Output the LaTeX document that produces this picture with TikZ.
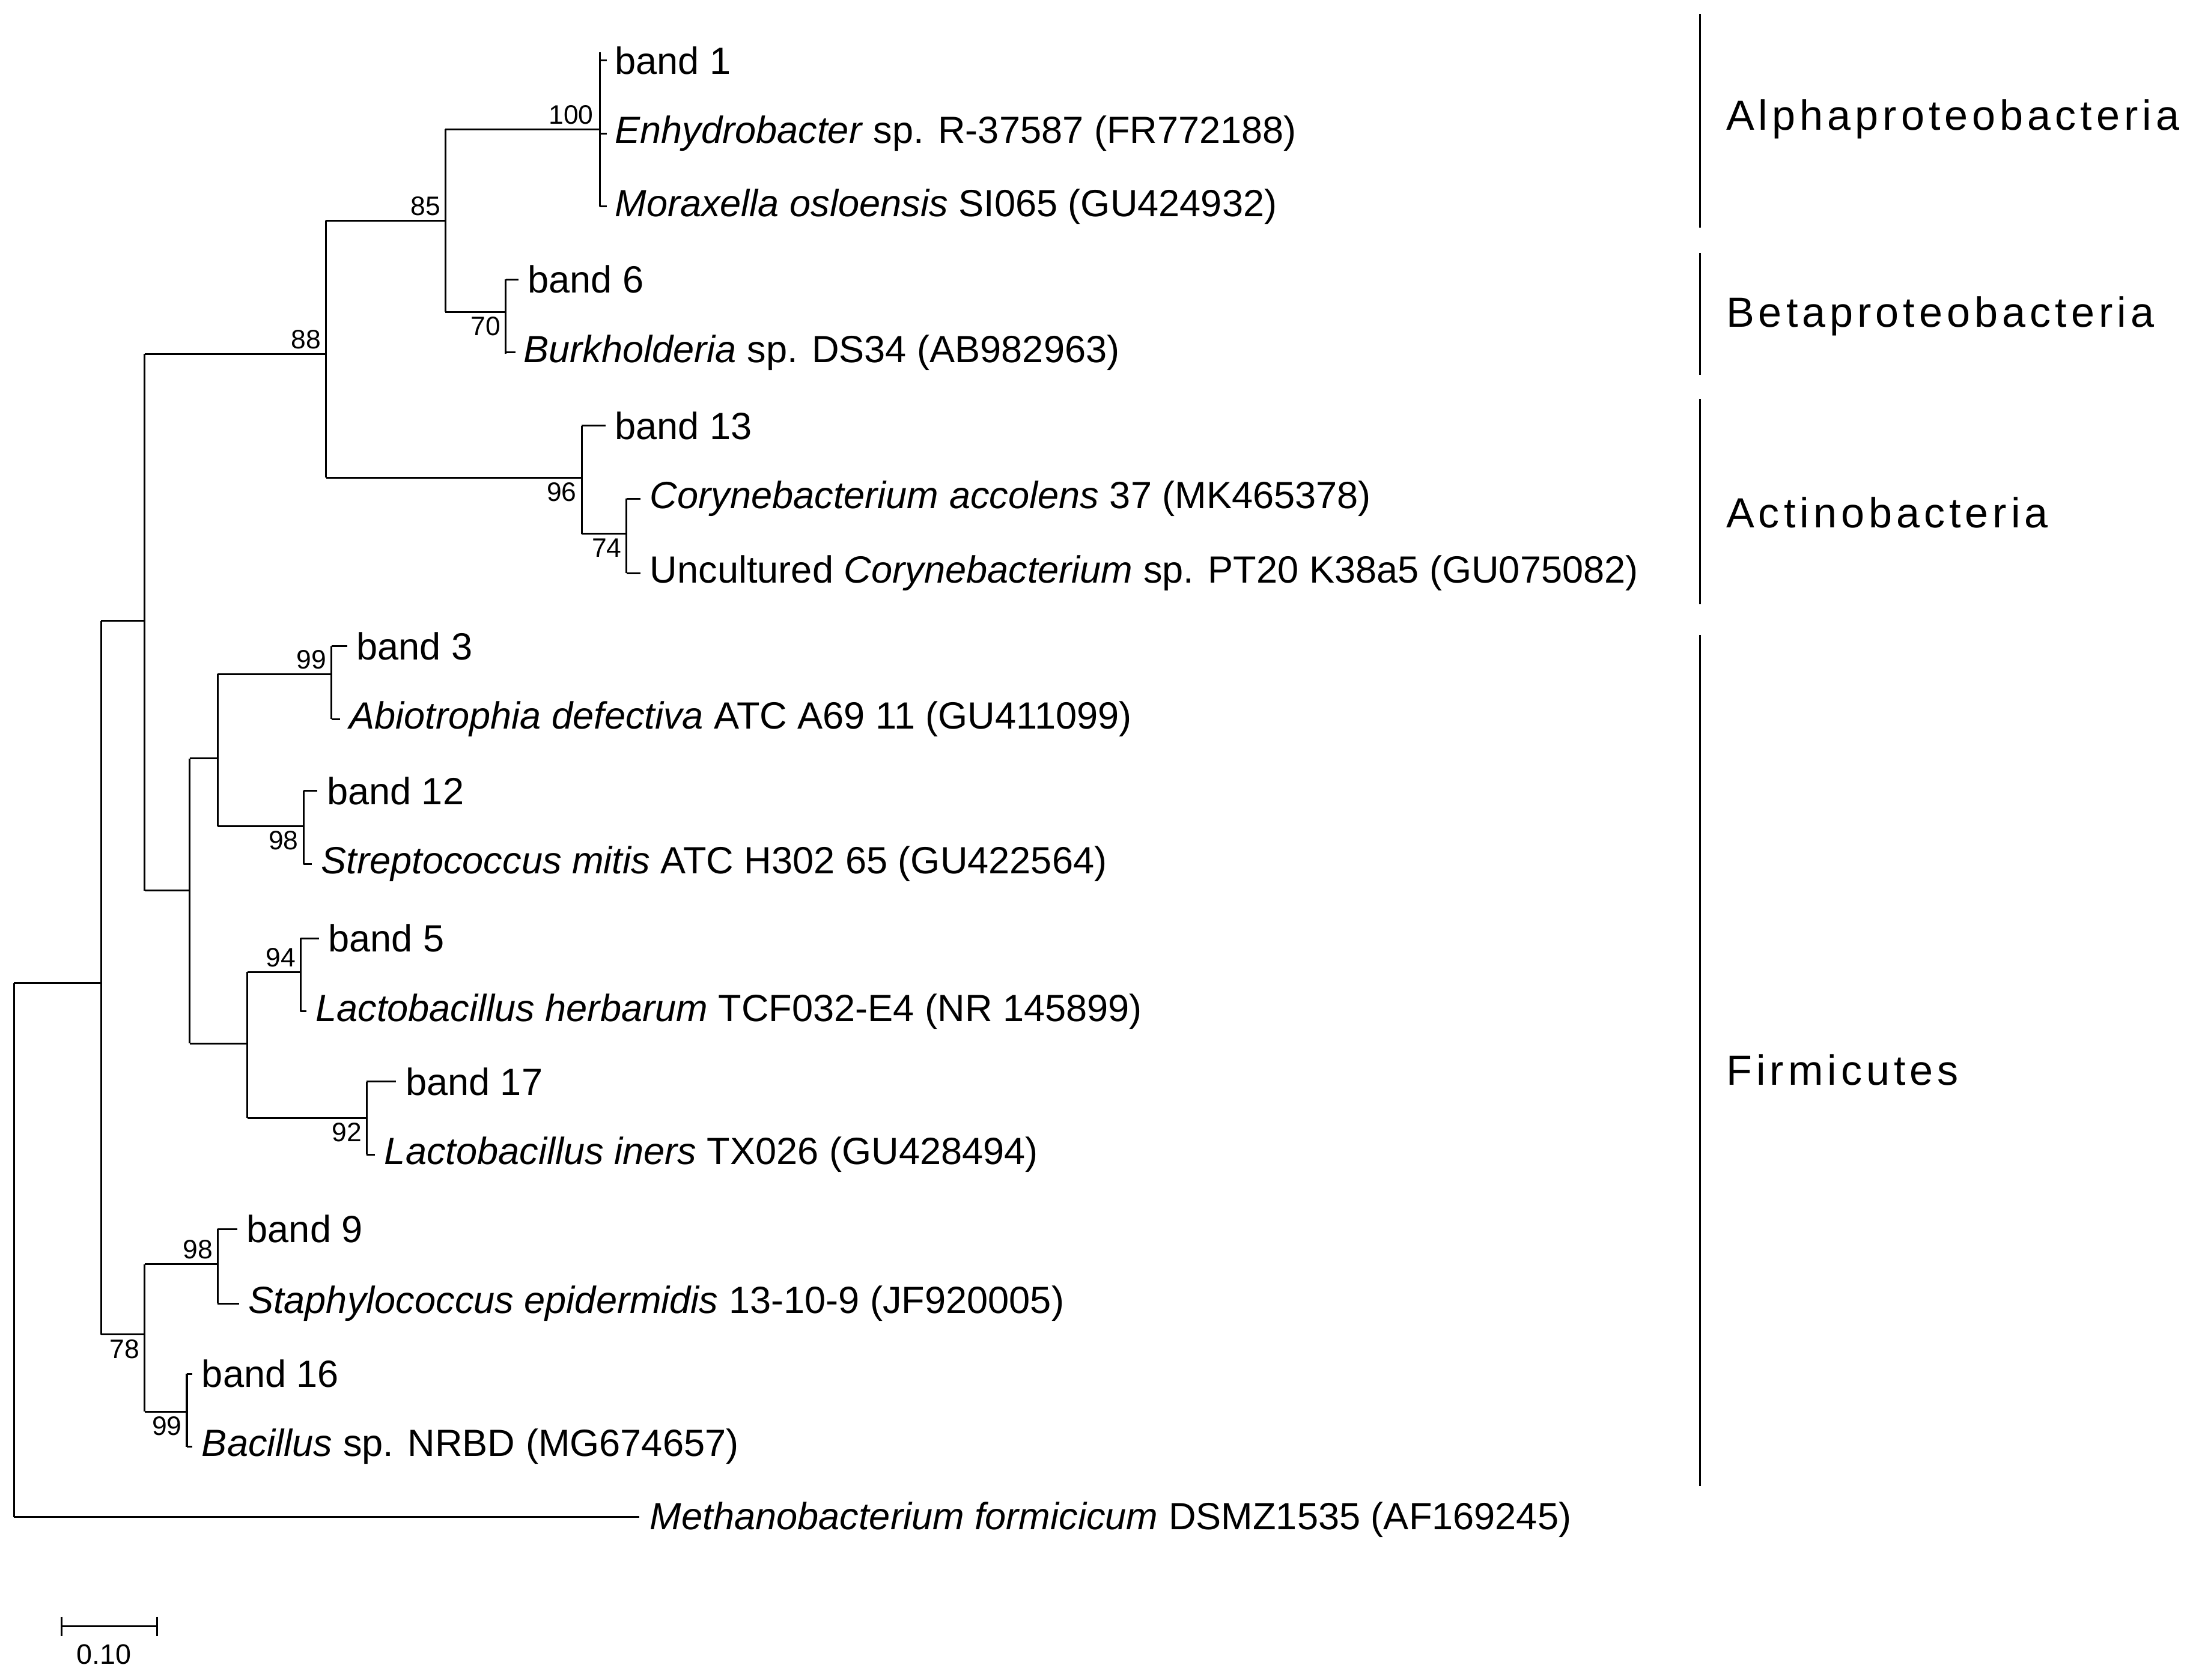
\documentclass[tikz,border=0pt]{standalone}
\usepackage{fontspec}
\setmainfont{Liberation Sans}
\newfontfamily\clfont[LetterSpace=10]{Liberation Sans}
\begin{document}
\begin{tikzpicture}[x=1pt,y=-1pt,line width=1.3pt,
  lf/.style={anchor=west,font=\fontsize{27}{29}\selectfont,inner sep=0pt},
  bs/.style={font=\fontsize{19}{21}\selectfont,inner sep=1pt},
  cl/.style={anchor=west,font=\clfont\fontsize{30}{32}\selectfont,inner sep=0pt}]
\useasboundingbox (0,0) rectangle (1563,1196);
\draw (10,700) -- (10,1080);
\newcommand\lf[4]{\node[lf] (#1) at (#2,#3) {#4};}
% leaves
\lf{l1}{437}{43}{band 1}
\lf{l2}{437}{95}{\textit{Enhydrobacter} sp. R-37587 (FR772188)}
\lf{l3}{437}{147}{\textit{Moraxella osloensis} SI065 (GU424932)}
\lf{l4}{375}{199}{band 6}
\lf{l5}{372}{251}{\textit{Burkholderia} sp. DS34 (AB982963)}
\lf{l6}{437}{303}{band 13}
\lf{l7}{462}{355}{\textit{Corynebacterium accolens} 37 (MK465378)}
\lf{l8}{462}{408}{Uncultured \textit{Corynebacterium} sp. PT20 K38a5 (GU075082)}
\lf{l9}{253}{460}{band 3}
\lf{l10}{248}{512}{\textit{Abiotrophia defectiva} ATC A69 11 (GU411099)}
\lf{l11}{232}{563}{band 12}
\lf{l12}{228}{615}{\textit{Streptococcus mitis} ATC H302 65 (GU422564)}
\lf{l13}{233}{668}{band 5}
\lf{l14}{224}{720}{\textit{Lactobacillus herbarum} TCF032-E4 (NR 145899)}
\lf{l15}{288}{770}{band 17}
\lf{l16}{273}{822}{\textit{Lactobacillus iners} TX026 (GU428494)}
\lf{l17}{175}{875}{band 9}
\lf{l18}{176}{928}{\textit{Staphylococcus epidermidis} 13-10-9 (JF920005)}
\lf{l19}{143}{978}{band 16}
\lf{l20}{143}{1030}{\textit{Bacillus} sp. NRBD (MG674657)}
\lf{l21}{462}{1082}{\textit{Methanobacterium formicicum} DSMZ1535 (AF169245)}
% tree
\draw (10,1080) -- (455,1080);
\draw (10,700) -- (72,700);
\draw (72,442) -- (72,950);
\draw (72,442) -- (103,442) (103,252) -- (103,634);
\draw (103,252) -- (232,252) (232,157) -- (232,340);
\draw (232,157) -- (317,157) (317,92) -- (317,222);
\draw (317,92) -- (427,92) (427,37) -- (427,147);
\draw (427,43) -- (432,43) (427,95) -- (432,95) (427,147) -- (432,147);
\draw (317,222) -- (360,222) (360,199) -- (360,252);
\draw (360,199) -- (369,199) (360,251) -- (367,251);
\draw (232,340) -- (414,340) (414,303) -- (414,380);
\draw (414,303) -- (431,303) (414,380) -- (446,380) (446,355) -- (446,408);
\draw (446,355) -- (456,355) (446,408) -- (456,408);
\draw (103,634) -- (135,634) (135,540) -- (135,743);
\draw (135,540) -- (155,540) (155,480) -- (155,588);
\draw (155,480) -- (236,480) (236,460) -- (236,512) (236,460) -- (247,460) (236,512) -- (242,512);
\draw (155,588) -- (216,588) (216,563) -- (216,615) (216,563) -- (226,563) (216,615) -- (222,615);
\draw (135,743) -- (176,743) (176,692) -- (176,796);
\draw (176,692) -- (214,692) (214,668) -- (214,720) (214,668) -- (227,668) (214,720) -- (218,720);
\draw (176,796) -- (261,796) (261,770) -- (261,822) (261,770) -- (282,770) (261,822) -- (267,822);
\draw (72,950) -- (103,950) (103,900) -- (103,1005);
\draw (103,900) -- (155,900) (155,875) -- (155,928) (155,875) -- (169,875) (155,928) -- (170,928);
\draw (103,1005) -- (133,1005) (133,978) -- (133,1030) (133,978) -- (137,978) (133,1030) -- (137,1030);
% bootstrap
\node[bs,anchor=south east] at (230,250) {88};
\node[bs,anchor=south east] at (315,155) {85};
\node[bs,anchor=south east] at (424,90) {100};
\node[bs,anchor=north east] at (358,224) {70};
\node[bs,anchor=north east] at (412,342) {96};
\node[bs,anchor=north east] at (444,382) {74};
\node[bs,anchor=south east] at (234,478) {99};
\node[bs,anchor=north east] at (214,590) {98};
\node[bs,anchor=south east] at (212,690) {94};
\node[bs,anchor=north east] at (259,798) {92};
\node[bs,anchor=north east] at (101,952) {78};
\node[bs,anchor=south east] at (153,898) {98};
\node[bs,anchor=north east] at (131,1007) {99};
% clades
\draw (1210,10) -- (1210,162) (1210,180) -- (1210,267) (1210,284) -- (1210,430) (1210,452) -- (1210,1058);
\node[cl] (c1) at (1228,85) {Alphaproteobacteria};
\node[cl] (c2) at (1228,225) {Betaproteobacteria};
\node[cl] (c3) at (1228,365) {Actinobacteria};
\node[cl] (c4) at (1228,762) {Firmicutes};
% scale
\draw (44,1158) -- (112,1158) (44,1151) -- (44,1165) (112,1151) -- (112,1165);
\node[bs,font=\fontsize{20}{22}\selectfont] (sc) at (74,1178) {0.10};
\end{tikzpicture}
\end{document}
